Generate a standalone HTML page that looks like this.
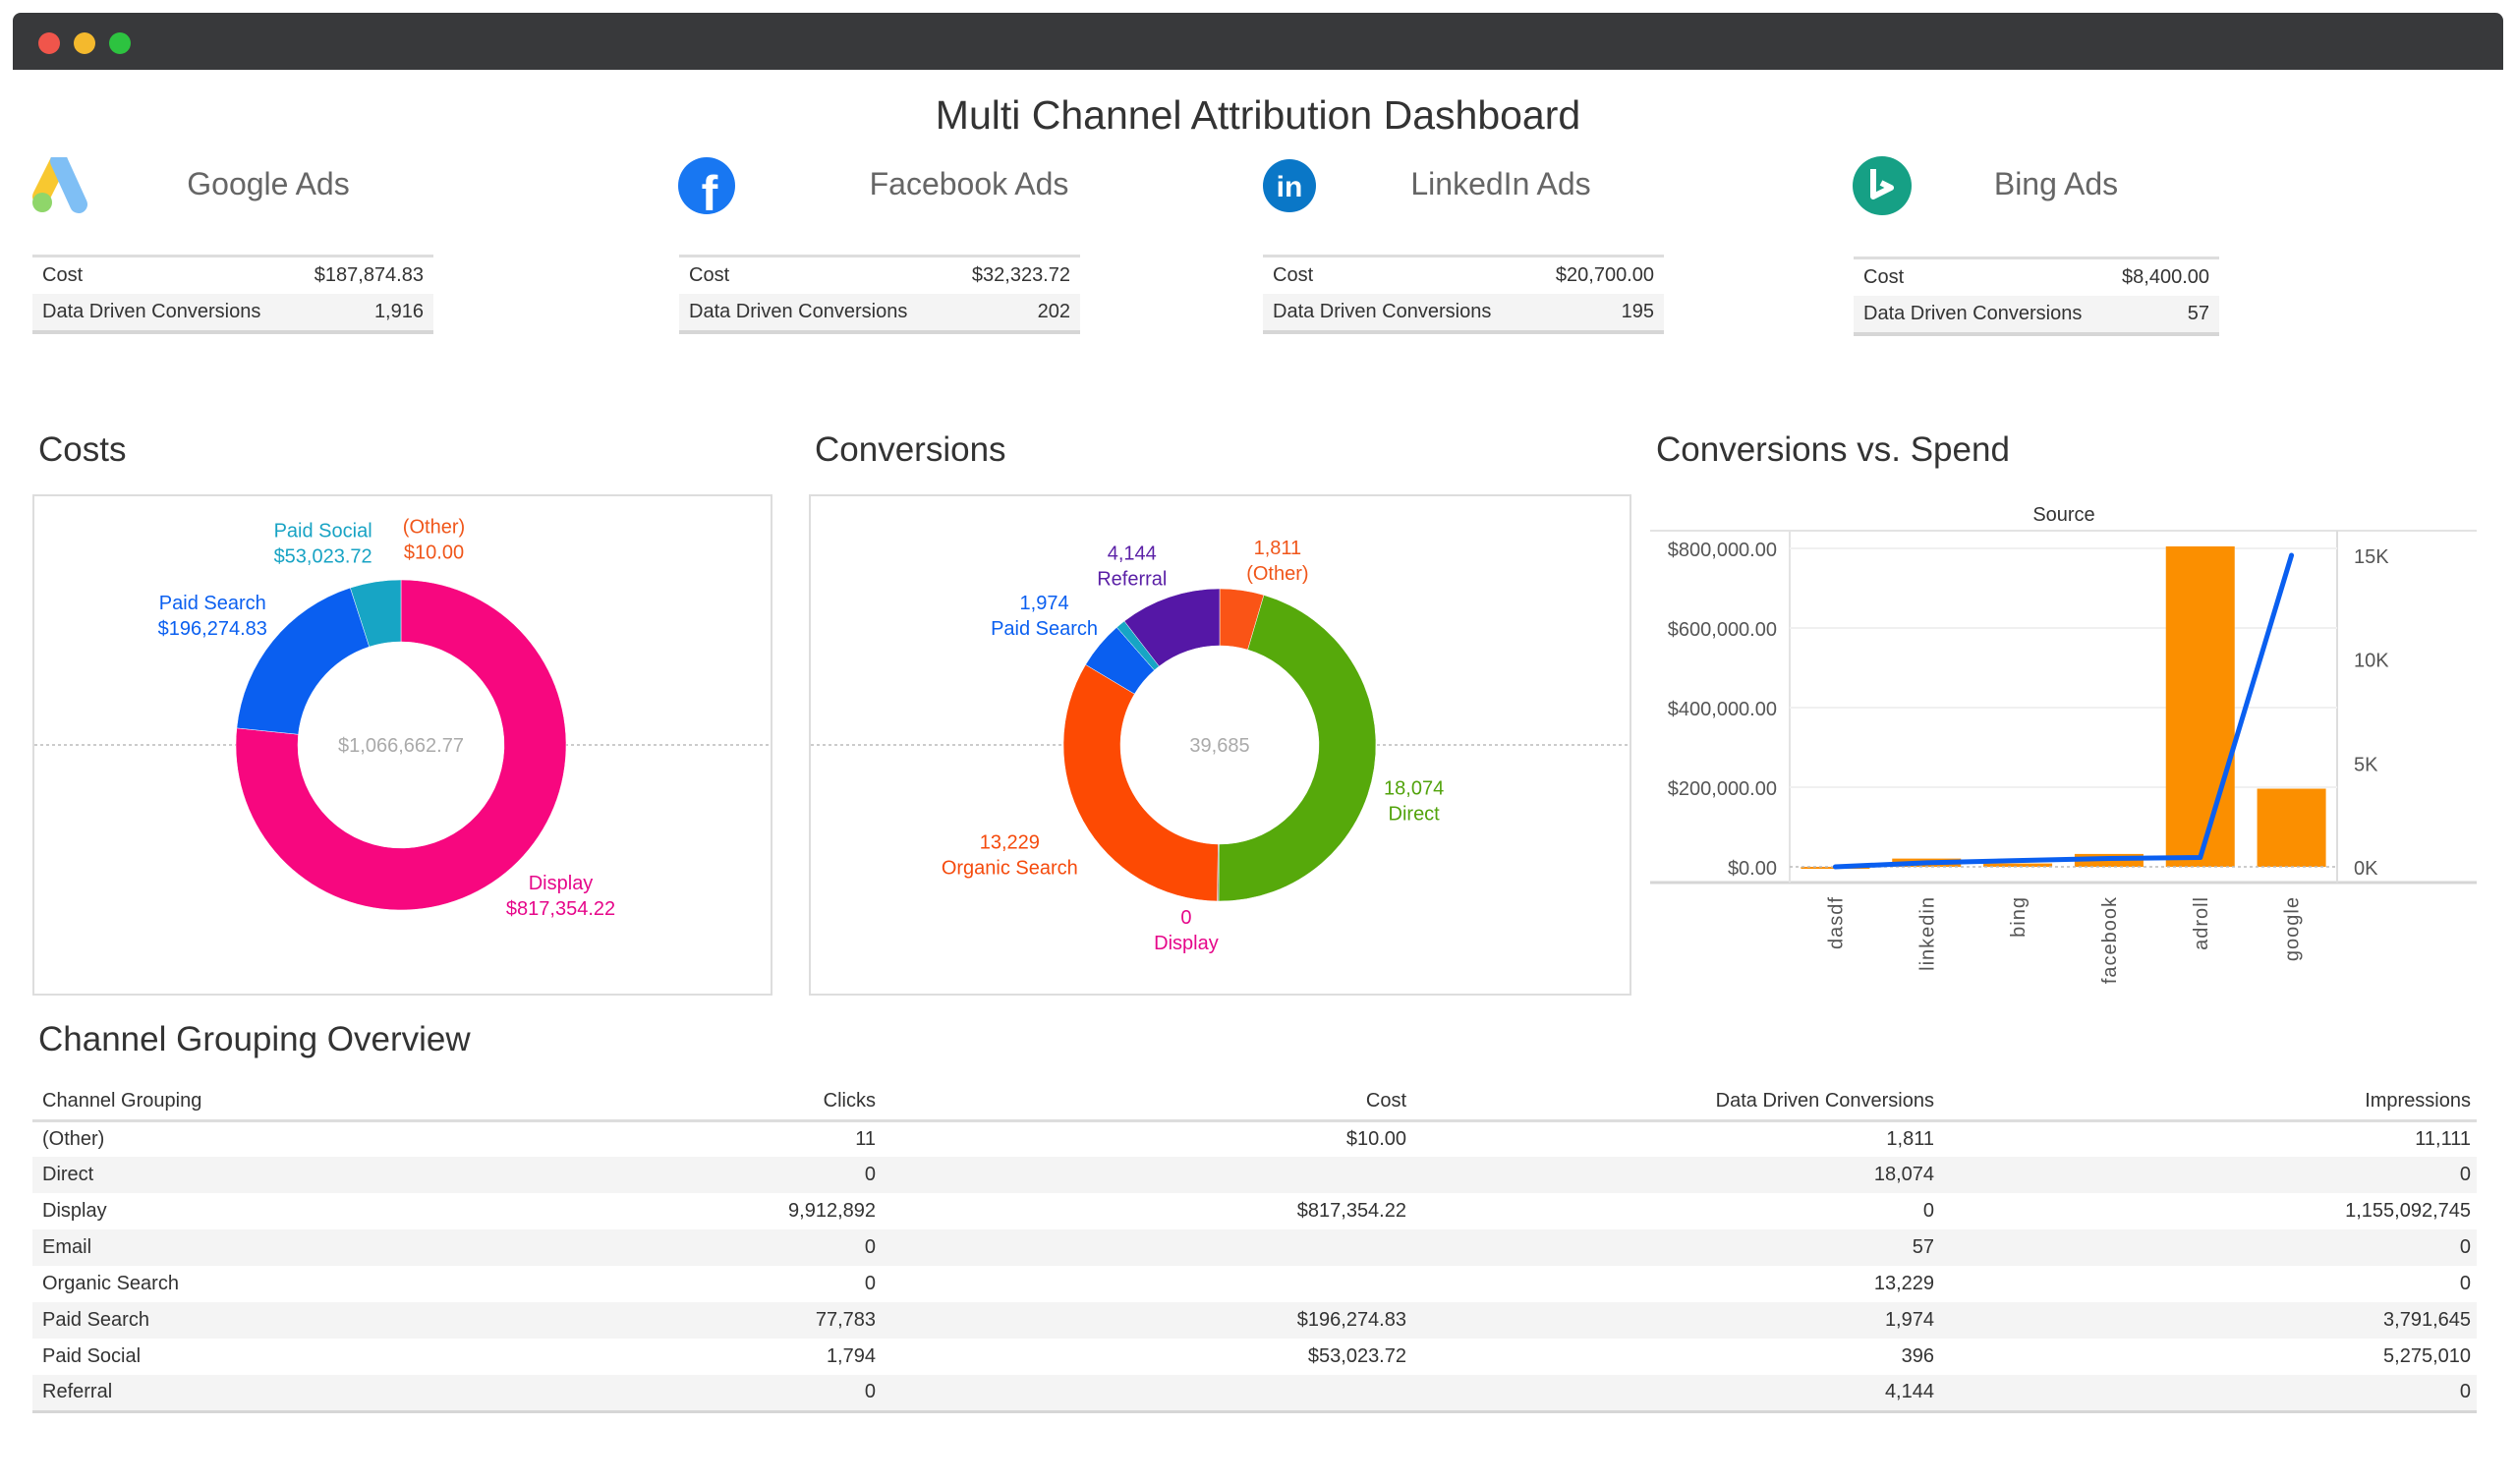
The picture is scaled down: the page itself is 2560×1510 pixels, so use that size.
<!DOCTYPE html>
<html><head><meta charset="utf-8"><title>Multi Channel Attribution Dashboard</title>
<style>
*{box-sizing:border-box;margin:0;padding:0}
body{width:2560px;height:1510px;background:#fff;font-family:"Liberation Sans",sans-serif;color:#333;position:relative;overflow:hidden}
.abs{position:absolute}
.kpi{position:absolute;border-top:3px solid #ddd;border-bottom:4px solid #d6d6d6;font-size:20px}
.kpi .r{height:37px;display:flex;justify-content:space-between;align-items:center;padding:0 10px}
.kpi .r.s{background:#f4f4f4}
.brand{position:absolute;font-size:32px;color:#666;transform:translateX(-50%);white-space:nowrap}
.sec{position:absolute;font-size:35px;color:#333}
.panel{position:absolute;border:2px solid #ddd}
table.ov{position:absolute;left:33px;top:1103px;width:2487px;border-collapse:collapse;font-size:20px}
table.ov th{font-weight:normal;height:37px;border-bottom:3px solid #ddd;text-align:right;padding:0 6px}
table.ov td{height:37px;text-align:right;padding:0 6px}
table.ov th:first-child,table.ov td:first-child{text-align:left;padding-left:10px}
table.ov tr.s td{background:#f4f4f4}
table.ov tr:last-child td{border-bottom:3px solid #d6d6d6}
</style></head><body>
<div class="abs" style="left:13px;top:13px;width:2534px;height:58px;background:#38393b;border-radius:8px 8px 0 0"></div>
<div class="abs" style="left:39px;top:33px;width:22px;height:22px;border-radius:50%;background:#f0554b"></div>
<div class="abs" style="left:75px;top:33px;width:22px;height:22px;border-radius:50%;background:#f4b92d"></div>
<div class="abs" style="left:111px;top:33px;width:22px;height:22px;border-radius:50%;background:#2dc340"></div>

<div class="abs" style="left:0;width:2560px;top:94px;text-align:center;font-size:41px;color:#333">Multi Channel Attribution Dashboard</div>

<svg class="abs" style="left:30px;top:160px" width="64" height="60" viewBox="0 0 64 60"><path d="M30 4 L12 40" stroke="#f8c830" stroke-width="18" stroke-linecap="round"/><path d="M30 4 L50 48" stroke="#7fbff5" stroke-width="18" stroke-linecap="round"/><circle cx="13" cy="46" r="10" fill="#8fd66a"/></svg>
<div class="brand" style="left:273px;top:169px">Google Ads</div>
<svg class="abs" style="left:689px;top:159px" width="60" height="60" viewBox="0 0 60 60"><circle cx="30" cy="30" r="29" fill="#1877f2"/><text x="33" y="55" text-anchor="middle" font-family="Liberation Sans" font-weight="bold" font-size="50" fill="#fff">f</text></svg>
<div class="brand" style="left:986px;top:169px">Facebook Ads</div>
<svg class="abs" style="left:1284px;top:161px" width="56" height="56" viewBox="0 0 56 56"><circle cx="28" cy="28" r="27" fill="#0a77c7"/><text x="28" y="39" text-anchor="middle" font-family="Liberation Sans" font-weight="bold" font-size="30" fill="#fff">in</text></svg>
<div class="brand" style="left:1527px;top:169px">LinkedIn Ads</div>
<svg class="abs" style="left:1884px;top:158px" width="62" height="62" viewBox="0 0 62 62"><circle cx="31" cy="31" r="30" fill="#16a085"/><path d="M22 14 V42 L40 33 L30 28" stroke="#fff" stroke-width="6" fill="none" stroke-linejoin="round"/></svg>
<div class="brand" style="left:2092px;top:169px">Bing Ads</div>

<div class="kpi" style="left:33px;top:259px;width:408px"><div class="r"><span>Cost</span><span>$187,874.83</span></div><div class="r s"><span>Data Driven Conversions</span><span>1,916</span></div></div>
<div class="kpi" style="left:691px;top:259px;width:408px"><div class="r"><span>Cost</span><span>$32,323.72</span></div><div class="r s"><span>Data Driven Conversions</span><span>202</span></div></div>
<div class="kpi" style="left:1285px;top:259px;width:408px"><div class="r"><span>Cost</span><span>$20,700.00</span></div><div class="r s"><span>Data Driven Conversions</span><span>195</span></div></div>
<div class="kpi" style="left:1886px;top:261px;width:372px"><div class="r"><span>Cost</span><span>$8,400.00</span></div><div class="r s"><span>Data Driven Conversions</span><span>57</span></div></div>

<div class="sec" style="left:39px;top:438px">Costs</div>
<div class="sec" style="left:829px;top:438px">Conversions</div>
<div class="sec" style="left:1685px;top:438px">Conversions vs. Spend</div>

<div class="panel" style="left:33px;top:503px;width:753px;height:510px"></div>
<div class="panel" style="left:823px;top:503px;width:837px;height:510px"></div>

<svg id="charts" class="abs" style="left:0;top:0" width="2560" height="1510"></svg>

<div class="sec" style="left:39px;top:1038px">Channel Grouping Overview</div>
<table class="ov">
<tr><th style="width:600px">Channel Grouping</th><th style="width:264px">Clicks</th><th style="width:540px">Cost</th><th style="width:537px">Data Driven Conversions</th><th>Impressions</th></tr>
<tr><td>(Other)</td><td>11</td><td>$10.00</td><td>1,811</td><td>11,111</td></tr>
<tr class="s"><td>Direct</td><td>0</td><td></td><td>18,074</td><td>0</td></tr>
<tr><td>Display</td><td>9,912,892</td><td>$817,354.22</td><td>0</td><td>1,155,092,745</td></tr>
<tr class="s"><td>Email</td><td>0</td><td></td><td>57</td><td>0</td></tr>
<tr><td>Organic Search</td><td>0</td><td></td><td>13,229</td><td>0</td></tr>
<tr class="s"><td>Paid Search</td><td>77,783</td><td>$196,274.83</td><td>1,974</td><td>3,791,645</td></tr>
<tr><td>Paid Social</td><td>1,794</td><td>$53,023.72</td><td>396</td><td>5,275,010</td></tr>
<tr class="s"><td>Referral</td><td>0</td><td></td><td>4,144</td><td>0</td></tr>
</table>

<script>
// Costs donut data
const costCategories = ["(Other)", "Display", "Paid Search", "Paid Social"];
const costValues = [10.00, 817354.22, 196274.83, 53023.72];
const costLabels = ["$10.00", "$817,354.22", "$196,274.83", "$53,023.72"];
const costTotalLabel = "$1,066,662.77";
// Conversions donut data
const convCategories = ["(Other)", "Direct", "Display", "Email", "Organic Search", "Paid Search", "Paid Social", "Referral"];
const convValues = [1811, 18074, 0, 57, 13229, 1974, 396, 4144];
const convLabels = ["1,811", "18,074", "0", "57", "13,229", "1,974", "396", "4,144"];
const convTotalLabel = "39,685";
// Conversions vs Spend data
const sources = ["dasdf", "linkedin", "bing", "facebook", "adroll", "google"];
const spendValues = [-5000, 20700, 8400, 32323.72, 805000, 196274.83];
const conversionValues = [0, 195, 300, 400, 450, 15000];
const spendTicks = [0, 200000, 400000, 600000, 800000];
const spendTickLabels = ["$0.00", "$200,000.00", "$400,000.00", "$600,000.00", "$800,000.00"];
const convTicks = [0, 5000, 10000, 15000];
const convTickLabels = ["0K", "5K", "10K", "15K"];

const NS = "http://www.w3.org/2000/svg";
const svg = document.getElementById("charts");
function mk(tag, attrs, parent) {
  const e = document.createElementNS(NS, tag);
  for (const k in attrs) e.setAttribute(k, attrs[k]);
  (parent || svg).appendChild(e);
  return e;
}
const colorMap = {"(Other)": "#fa5416", "Direct": "#56a90b", "Display": "#f7077f", "Email": "#8c8c8c", "Organic Search": "#fd4a03", "Paid Search": "#0a5ff0", "Paid Social": "#17a5c5", "Referral": "#5517a6"};
const labelColor = {"(Other)": "#f0561a", "Direct": "#52a30c", "Display": "#e6078a", "Email": "#888", "Organic Search": "#f54a0c", "Paid Search": "#0a5ff0", "Paid Social": "#18a3c4", "Referral": "#5a1fa6"};

function pt(cx, cy, r, deg) { const a = (deg - 90) * Math.PI / 180; return [cx + r * Math.cos(a), cy + r * Math.sin(a)]; }
function arc(cx, cy, ro, ri, a0, a1) {
  if (a1 - a0 >= 359.999) a1 = a0 + 359.999;
  const large = (a1 - a0) > 180 ? 1 : 0;
  const p0 = pt(cx, cy, ro, a0), p1 = pt(cx, cy, ro, a1), p2 = pt(cx, cy, ri, a1), p3 = pt(cx, cy, ri, a0);
  return `M${p0[0]},${p0[1]} A${ro},${ro} 0 ${large} 1 ${p1[0]},${p1[1]} L${p2[0]},${p2[1]} A${ri},${ri} 0 ${large} 0 ${p3[0]},${p3[1]} Z`;
}
function donut(name, cats, vals, labs, total, cx, cy, ro, ri, lr, nudge, skip, x0, x1) {
  const g = mk("g", {});
  
  
  const ref = mk("line", {x1: x0, x2: x1, y1: cy, y2: cy, stroke: "#bbb", "stroke-width": 1.5, "stroke-dasharray": "3,3"}, g);
  
  
  mk("circle", {cx: cx, cy: cy, r: ri, fill: "#fff"}, g);
  const sum = vals.reduce((a, b) => a + b, 0);
  let a = 0;
  cats.forEach((c, i) => {
    const sweep = vals[i] / sum * 360;
    if (sweep > 0) {
      const p = mk("path", {d: arc(cx, cy, ro, ri, a, a + sweep), fill: colorMap[c], stroke: "#fff", "stroke-width": 0.5}, g);
      
      
    }
    if (!skip.includes(c)) {
      const n = nudge[c] || [0, 0];
      const mid = a + sweep / 2 + n[0];
      const q = pt(cx, cy, lr + n[1], mid);
      const t = mk("text", {x: q[0], y: q[1] - 4, "text-anchor": "middle", fill: labelColor[c], "font-size": 20}, g);
      
      
      const first = name === "costs-donut" ? c : labs[i];
      const second = name === "costs-donut" ? labs[i] : c;
      mk("tspan", {x: q[0], dy: 0}, t).textContent = first;
      mk("tspan", {x: q[0], dy: 26}, t).textContent = second;
    }
    a += sweep;
  });
  const ct = mk("text", {x: cx, y: cy + 7, "text-anchor": "middle", fill: "#aaa", "font-size": 20}, g);
  
  
  ct.textContent = total;
}
donut("costs-donut", costCategories, costValues, costLabels, costTotalLabel, 408, 758, 168, 105, 222,
  {"(Other)": [9, -8], "Paid Social": [-12, 0], "Paid Search": [-4, 12], "Display": [-5, 0]}, [], 35, 784);
donut("conversions-donut", convCategories, convValues, convLabels, convTotalLabel, 1241, 758, 159, 101, 205,
  {"(Other)": [9, -6], "Direct": [7, 0], "Referral": [-7, 0], "Display": [10, -16], "Organic Search": [2, 35], "Paid Search": [-3, 18]}, ["Email", "Paid Social"], 825, 1658);

// Combo chart
const plotL = 1821, plotR = 2378, y0 = 882, ySpendTop = 558, yConvTop = 565;
const ySpend = v => y0 - v / 800000 * (y0 - ySpendTop);
const yConv = v => y0 - v / 15000 * (y0 - yConvTop);
const band = (plotR - plotL) / sources.length;
const xc = i => plotL + band * (i + 0.5);
const cg = mk("g", {});


const st = mk("text", {x: 2100, y: 530, "text-anchor": "middle", "font-size": 20, fill: "#333"}, cg);


st.textContent = "Source";
mk("line", {x1: 1679, x2: 2520, y1: 540, y2: 540, stroke: "#e3e3e3", "stroke-width": 2}, cg);
mk("line", {x1: 1679, x2: 2520, y1: 898, y2: 898, stroke: "#d6d6d6", "stroke-width": 3}, cg);
mk("line", {x1: plotL, x2: plotL, y1: 540, y2: 898, stroke: "#e3e3e3", "stroke-width": 2}, cg);
mk("line", {x1: plotR, x2: plotR, y1: 540, y2: 898, stroke: "#ddd", "stroke-width": 2}, cg);
spendTicks.forEach((v, i) => {
  if (v !== 0) mk("line", {x1: plotL, x2: plotR, y1: ySpend(v), y2: ySpend(v), stroke: "#f0f0f0", "stroke-width": 2}, cg);
  const t = mk("text", {x: 1808, y: ySpend(v) + 8, "text-anchor": "end", "font-size": 20, fill: "#555"}, cg);
  
  
  t.textContent = spendTickLabels[i];
});
convTicks.forEach((v, i) => {
  const t = mk("text", {x: 2395, y: yConv(v) + 8, "font-size": 20, fill: "#555"}, cg);
  
  
  t.textContent = convTickLabels[i];
});
sources.forEach((s, i) => {
  const v = spendValues[i];
  const top = Math.min(ySpend(v), ySpend(0)), h = Math.max(Math.abs(ySpend(v) - ySpend(0)), 1);
  const r = mk("rect", {x: xc(i) - 35, y: top, width: 70, height: h, fill: "#fb8f00"}, cg);
  
  
  const t = mk("text", {x: 0, y: 0, transform: `translate(${xc(i) + 7},912) rotate(-90)`, "text-anchor": "end", "font-size": 20, fill: "#555", "letter-spacing": 1}, cg);
  
  
  t.textContent = s;
});
mk("line", {x1: plotL, x2: plotR, y1: y0, y2: y0, stroke: "#bbb", "stroke-width": 1.5, "stroke-dasharray": "3,3"}, cg);
const line = mk("polyline", {points: sources.map((s, i) => xc(i) + "," + yConv(conversionValues[i])).join(" "), fill: "none", stroke: "#0a5ff0", "stroke-width": 5, "stroke-linejoin": "round", "stroke-linecap": "round"}, cg);


</script>
</body></html>
